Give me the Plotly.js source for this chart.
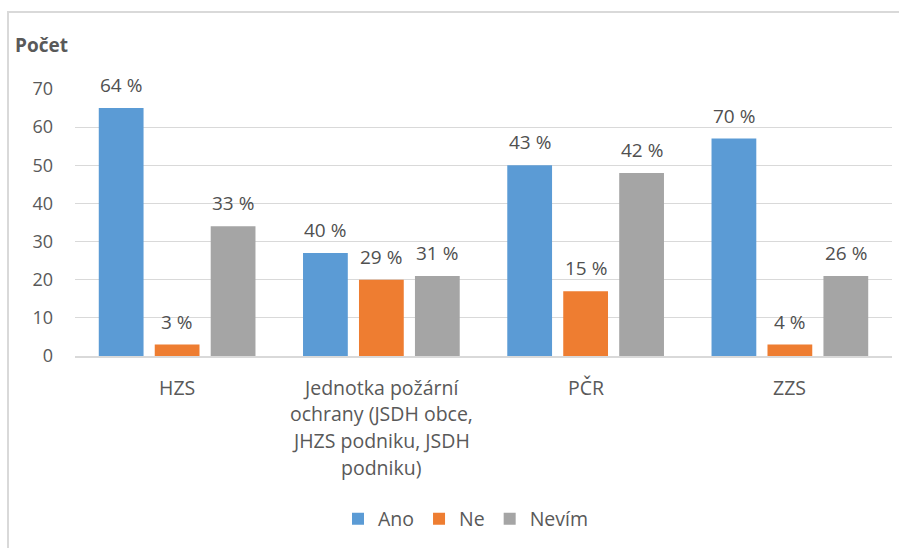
<!DOCTYPE html>
<html>
<head>
<meta charset="utf-8">
<script src="https://cdn.plot.ly/plotly-3.0.1.min.js"></script>
<style>
  html, body { margin: 0; padding: 0; background: #ffffff; }
  #chart { width: 899px; height: 548px; }
  #frame { position: absolute; left: 7px; top: 11px; width: 892px; height: 537px;
           border-left: 2px solid #d9d9d9; border-top: 2px solid #d9d9d9; pointer-events: none; box-sizing: border-box; }
</style>
</head>
<body>
<div id="chart"></div>
<div id="frame"></div>
<script>
const categories = ["HZS", "Jednotka požární\nochrany (JSDH obce,\nJHZS podniku, JSDH\npodniku)", "PČR", "ZZS"];
const seriesNames = ["Ano", "Ne", "Nevím"];
const ano = [65, 27, 50, 57];
const ne = [3, 20, 17, 3];
const nevim = [34, 21, 48, 21];
const anoPct = ["64 %", "40 %", "43 %", "70 %"];
const nePct = ["3 %", "29 %", "15 %", "4 %"];
const nevimPct = ["33 %", "31 %", "42 %", "26 %"];
const yTicks = [0, 10, 20, 30, 40, 50, 60, 70];

const colors = ["#5b9bd5", "#ee7d31", "#a5a5a5"];
const values = [ano, ne, nevim];
const pcts = [anoPct, nePct, nevimPct];
const FONT = "'Open Sans', Lato, sans-serif";
const catKeys = categories.map((c, i) => "c" + i);

const bargap = 0.178;
const traces = values.map((v, k) => ({
  type: "bar",
  name: seriesNames[k],
  x: catKeys,
  y: v,
  marker: { color: colors[k], line: { width: 0 } },
  hoverinfo: "none"
}));

const annotations = [];
const slot = (1 - bargap) / 3;
values.forEach((v, k) => {
  v.forEach((val, i) => {
    annotations.push({
      x: i + (k - 1) * slot, y: val, xref: "x", yref: "y",
      text: pcts[k][i], showarrow: false, yanchor: "middle", yshift: 23,
      font: { family: FONT, size: 19, color: "#505050" }
    });
  });
});
categories.forEach((c, i) => {
  c.split("\n").forEach((line, j) => {
    annotations.push({
      x: i, y: 0, xref: "x", yref: "paper",
      text: line, showarrow: false, yanchor: "middle", yshift: -(31 + j * 26.8),
      font: { family: FONT, size: 19.5, color: "#595959" }
    });
  });
});

const layout = {
  width: 899, height: 548,
  margin: { l: 75, r: 7, t: 89, b: 192 },
  paper_bgcolor: "#ffffff", plot_bgcolor: "#ffffff",
  barmode: "group", bargap: bargap, bargroupgap: 0.2,
  title: {
    text: "<b>Počet</b>", xref: "container", yref: "container",
    x: 15 / 899, xanchor: "left", y: 1 - 45 / 548, yanchor: "middle",
    font: { family: FONT, size: 19, color: "#595959" }
  },
  xaxis: {
    type: "category", showticklabels: false, showgrid: false, zeroline: false,
    showline: true, linecolor: "#d9d9d9", linewidth: 1.5, ticks: "",
    range: [-0.5, 3.5], fixedrange: true
  },
  yaxis: {
    range: [0, 70], tickvals: yTicks, ticktext: yTicks.map(String),
    showgrid: true, gridcolor: "#d9d9d9", gridwidth: 1, zeroline: false,
    showline: false, ticks: "", ticklabelstandoff: 21,
    tickfont: { family: FONT, size: 18, color: "#595959" }, fixedrange: true
  },
  showlegend: true,
  legend: {
    orientation: "h", xref: "container", yref: "container",
    x: 466 / 899, xanchor: "center", y: 1 - 519 / 548, yanchor: "middle",
    font: { family: FONT, size: 19.5, color: "#595959" },
    itemwidth: 30, tracegroupgap: 0
  },
  annotations: annotations
};

Plotly.newPlot("chart", traces, layout, { displayModeBar: false, staticPlot: true });
</script>
</body>
</html>
